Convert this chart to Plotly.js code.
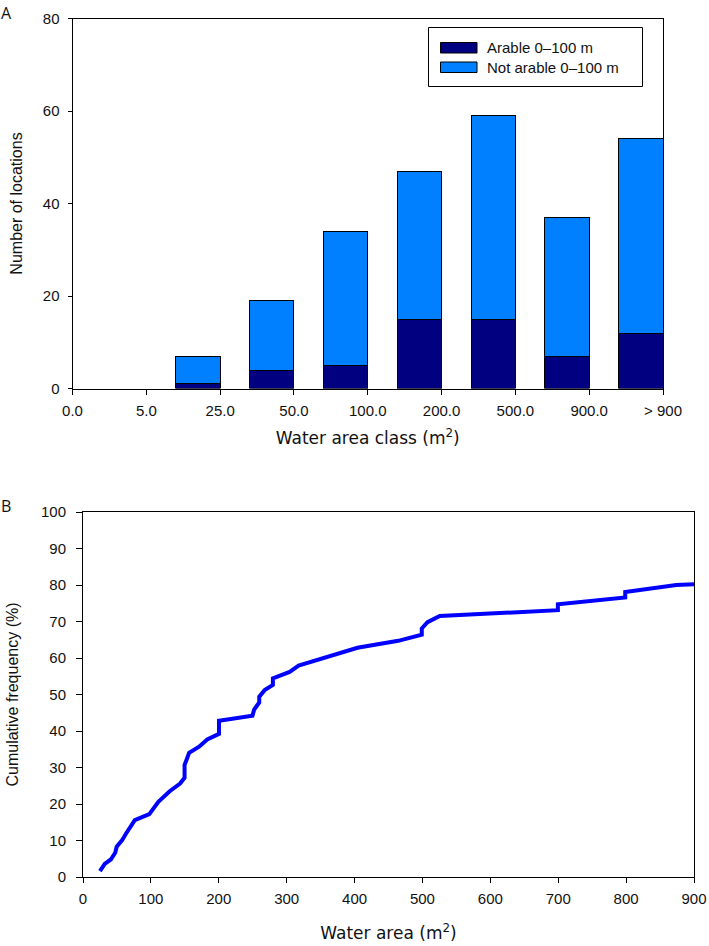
<!DOCTYPE html>
<html>
<head>
<meta charset="utf-8">
<script src="https://cdn.plot.ly/plotly-3.0.1.min.js"></script>
<style>html,body{margin:0;padding:0;background:#fff;}#chart{width:709px;height:946px;}</style>
</head>
<body>
<div id="chart"></div>
<script>
// ---- Panel A data ----
var tickLabels = ["0.0", "5.0", "25.0", "50.0", "100.0", "200.0", "500.0", "900.0", "> 900"];
var classUpper = ["5.0", "25.0", "50.0", "100.0", "200.0", "500.0", "900.0", "> 900"];
var arable = [0, 1, 4, 5, 15, 15, 7, 12];
var notArable = [0, 6, 15, 29, 32, 44, 30, 42];
var seriesNames = ["Arable 0\u2013100 m", "Not arable 0\u2013100 m"];

// ---- Panel B data ----
var waterArea = [25, 32, 41, 47.6, 49.6, 57.7, 63, 76.3, 97.7, 111, 127.7, 143, 149.6, 149.6, 152.3, 156.3, 171, 183, 200.3, 200.3, 249.6, 252.2, 259.6, 259.6, 267.6, 279.7, 279.7, 304.3, 317.6, 347.6, 377.6, 404.3, 464.3, 499, 499, 507.5, 525.5, 699.5, 699.5, 798.7, 798.7, 874, 900];
var cumFreq = [1.6, 3.6, 4.8, 6.7, 8.3, 10.1, 11.8, 15.6, 17.2, 20.6, 23.5, 25.6, 27.2, 30.7, 32, 34, 35.7, 37.7, 39.2, 42.8, 44.2, 45.9, 47.8, 49.4, 51.2, 52.6, 54.4, 56.2, 57.9, 59.6, 61.4, 62.8, 64.7, 66.4, 68.1, 69.8, 71.5, 73.1, 74.7, 76.6, 78.1, 80, 80.2];

var W = 709, H = 946;
function px(x) { return x / W; }
function py(y) { return 1 - y / H; }

var xpos = classUpper.map(function (c) { return tickLabels.indexOf(c); });
var tickvalsA = tickLabels.map(function (t, i) { return i; });
function outlineFor(vals) { return vals.map(function (v) { return v > 0 ? 1 : 0; }); }

var darkBlue = "#000080", lightBlue = "#0080FF";
var FONT = "Liberation Sans, Arial, Helvetica, sans-serif";
var WIDEFONT = "DejaVu Sans, Verdana, sans-serif";

var traces = [
  {
    type: "bar", x: xpos, y: arable, name: seriesNames[0],
    offset: -0.6, width: 0.6,
    marker: { color: darkBlue, line: { color: "#000", width: outlineFor(arable) } },
    xaxis: "x", yaxis: "y", showlegend: false, hoverinfo: "y+name"
  },
  {
    type: "bar", x: xpos, y: notArable, name: seriesNames[1],
    offset: -0.6, width: 0.6,
    marker: { color: lightBlue, line: { color: "#000", width: outlineFor(notArable) } },
    xaxis: "x", yaxis: "y", showlegend: false, hoverinfo: "y+name"
  },
  {
    type: "scatter", mode: "lines", x: waterArea, y: cumFreq,
    line: { color: "#0000FF", width: 4 },
    xaxis: "x2", yaxis: "y2", showlegend: false
  }
];

var axisCommon = {
  showline: true, mirror: true, linecolor: "#000", linewidth: 1,
  showgrid: false, zeroline: false,
  ticks: "outside", ticklen: 5, tickwidth: 1, tickcolor: "#000",
  tickfont: { family: FONT, size: 15, color: "#111" }
};

function merge(a, b) { var o = {}; for (var k in a) o[k] = a[k]; for (var k2 in b) o[k2] = b[k2]; return o; }

var shapes = [
  { type: "rect", xref: "paper", yref: "paper", x0: px(428.5), x1: px(642.5), y0: py(27.5), y1: py(86.5),
    line: { color: "#000", width: 1 }, fillcolor: "#fff" },
  { type: "rect", xref: "paper", yref: "paper", x0: px(440.5), x1: px(477), y0: py(42.5), y1: py(53),
    line: { color: "#000", width: 1 }, fillcolor: darkBlue },
  { type: "rect", xref: "paper", yref: "paper", x0: px(440.5), x1: px(477), y0: py(62), y1: py(72.5),
    line: { color: "#000", width: 1 }, fillcolor: lightBlue }
];

var annotations = [
  { xref: "paper", yref: "paper", x: px(485), y: py(47.5), xanchor: "left", yanchor: "middle",
    text: seriesNames[0], showarrow: false, font: { family: FONT, size: 15, color: "#111" } },
  { xref: "paper", yref: "paper", x: px(485), y: py(67.5), xanchor: "left", yanchor: "middle",
    text: seriesNames[1], showarrow: false, font: { family: FONT, size: 15, color: "#111" } },
  { xref: "paper", yref: "paper", x: px(6), y: py(13), xanchor: "center", yanchor: "middle",
    text: "A", showarrow: false, font: { family: "Open Sans, DejaVu Sans, sans-serif", size: 16, color: "#111" } },
  { xref: "paper", yref: "paper", x: px(6), y: py(506), xanchor: "center", yanchor: "middle",
    text: "B", showarrow: false, font: { family: "Open Sans, DejaVu Sans, sans-serif", size: 16, color: "#111" } }
];

var layout = {
  width: W, height: H,
  margin: { l: 0, r: 0, t: 0, b: 0 },
  paper_bgcolor: "#fff", plot_bgcolor: "#fff",
  barmode: "stack",
  showlegend: false,
  xaxis: merge(axisCommon, {
    domain: [px(72.5), px(663)], anchor: "y",
    range: [0, 8], tickvals: tickvalsA, ticktext: tickLabels,
    ticklabelstandoff: 3,
    title: { text: "Water area class (m<sup>2</sup>)", font: { family: WIDEFONT, size: 17, color: "#111" }, standoff: 14 }
  }),
  yaxis: merge(axisCommon, {
    domain: [py(388.5), py(18.5)], anchor: "x",
    range: [0, 80], dtick: 20, ticklen: 4,
    ticklabelstandoff: 5,
    title: { text: "Number of locations", font: { family: FONT, size: 16, color: "#111" }, standoff: 16 }
  }),
  xaxis2: merge(axisCommon, {
    domain: [px(83), px(694)], anchor: "y2",
    range: [0, 900], dtick: 100,
    ticklabelstandoff: 3,
    title: { text: "Water area (m<sup>2</sup>)", font: { family: WIDEFONT, size: 17, color: "#111" }, standoff: 21 }
  }),
  yaxis2: merge(axisCommon, {
    domain: [py(877), py(512)], anchor: "x2",
    range: [0, 100], dtick: 10, ticklen: 6,
    ticklabelstandoff: 7,
    title: { text: "Cumulative frequency (%)", font: { family: FONT, size: 16, color: "#111" }, standoff: 18 }
  }),
  shapes: shapes,
  annotations: annotations
};

Plotly.newPlot("chart", traces, layout, { displayModeBar: false, staticPlot: true });
</script>
</body>
</html>
